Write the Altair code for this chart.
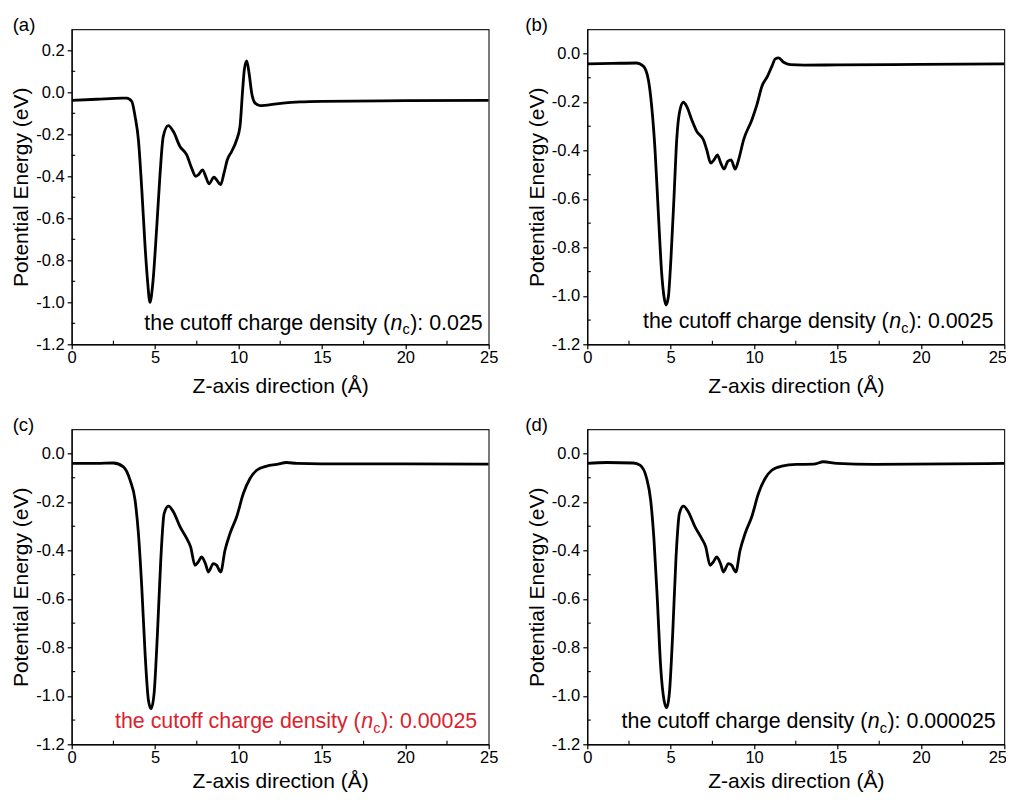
import altair as alt
import pandas as pd

FONT = "Liberation Sans"
W, H = 417, 315

# ---------------- data ----------------
z_a = [0, 1.5, 3.0, 3.3, 3.6, 3.8, 4.0, 4.2, 4.4, 4.55, 4.69, 4.85, 5.1, 5.3, 5.49, 5.79, 6.09, 6.49,
       6.89, 7.19, 7.43, 7.59, 7.85, 8.03, 8.23, 8.53, 8.69, 8.93, 9.13, 9.33, 9.59, 9.89, 10.09, 10.25,
       10.35, 10.49, 10.63, 10.79, 10.99, 11.29, 12.29, 13.69, 15, 20, 25]
e_a = [-0.038, -0.033, -0.028, -0.028, -0.043, -0.115, -0.226, -0.46, -0.735, -0.9, -1.0, -0.92, -0.64,
       -0.385, -0.21, -0.159, -0.186, -0.258, -0.297, -0.361, -0.40, -0.393, -0.369, -0.40, -0.436, -0.404,
       -0.417, -0.44, -0.385, -0.321, -0.282, -0.226, -0.162, 0.013, 0.108, 0.15, 0.093, -0.003, -0.051,
       -0.063, -0.055, -0.046, -0.043, -0.040, -0.038]

z_b = [0, 1.5, 2.96, 3.36, 3.66, 3.86, 4.06, 4.26, 4.46, 4.6, 4.72, 4.86, 5.02, 5.2, 5.36, 5.52, 5.76,
       5.96, 6.26, 6.56, 6.96, 7.16, 7.40, 7.6, 7.8, 8.0, 8.2, 8.42, 8.62, 8.87, 9.07, 9.37, 9.87, 10.17,
       10.47, 10.8, 11.07, 11.27, 11.47, 11.77, 12.17, 13, 15, 20, 25]
e_b = [-0.043, -0.041, -0.039, -0.052, -0.108, -0.218, -0.397, -0.659, -0.907, -1.004, -1.038, -1.004,
       -0.839, -0.59, -0.356, -0.245, -0.201, -0.218, -0.273, -0.321, -0.356, -0.397, -0.452, -0.439,
       -0.418, -0.452, -0.477, -0.445, -0.439, -0.477, -0.439, -0.356, -0.273, -0.211, -0.135, -0.094,
       -0.052, -0.022, -0.018, -0.036, -0.046, -0.048, -0.047, -0.045, -0.043]

z_c = [0, 1.5, 2.5, 3.1, 3.5, 3.8, 4.0, 4.2, 4.4, 4.6, 4.76, 4.94, 5.14, 5.34, 5.54, 5.8, 6.1, 6.5, 6.9,
       7.13, 7.39, 7.59, 7.79, 8.03, 8.19, 8.49, 8.69, 8.93, 9.19, 9.49, 9.89, 10.29, 10.69, 11.09, 11.69,
       12.29, 12.89, 13.49, 15, 20, 25]
e_c = [-0.041, -0.041, -0.039, -0.055, -0.11, -0.193, -0.33, -0.55, -0.826, -1.018, -1.053, -0.99,
       -0.743, -0.44, -0.248, -0.217, -0.241, -0.303, -0.351, -0.385, -0.461, -0.447, -0.427, -0.457,
       -0.489, -0.454, -0.461, -0.489, -0.399, -0.33, -0.261, -0.165, -0.103, -0.069, -0.052, -0.045,
       -0.037, -0.041, -0.043, -0.043, -0.044]

z_d = [0, 1.16, 2.76, 3.16, 3.56, 3.8, 4.0, 4.2, 4.4, 4.6, 4.76, 4.92, 5.12, 5.32, 5.52, 5.76, 6.06,
       6.46, 6.86, 7.1, 7.36, 7.56, 7.76, 8.0, 8.16, 8.46, 8.66, 8.9, 9.16, 9.46, 9.86, 10.26, 10.66,
       11.06, 11.66, 12.56, 13.56, 14.16, 14.96, 17.16, 25]
e_d = [-0.041, -0.037, -0.039, -0.048, -0.103, -0.193, -0.358, -0.605, -0.881, -1.018, -1.049, -0.99,
       -0.743, -0.427, -0.248, -0.217, -0.241, -0.303, -0.351, -0.385, -0.461, -0.447, -0.427, -0.457,
       -0.489, -0.454, -0.461, -0.489, -0.399, -0.33, -0.261, -0.165, -0.103, -0.069, -0.052, -0.045,
       -0.044, -0.034, -0.041, -0.045, -0.041]

panel_labels = ["(a)", "(b)", "(c)", "(d)"]
cutoff_values = ["0.025", "0.0025", "0.00025", "0.000025"]

x_major = [0, 5, 10, 15, 20, 25]
x_minor = [2.5, 7.5, 12.5, 17.5, 22.5]
y_major_a = [-1.2, -1.0, -0.8, -0.6, -0.4, -0.2, 0.0, 0.2]
y_minor_a = [-1.1, -0.9, -0.7, -0.5, -0.3, -0.1, 0.1]
y_major_b = [-1.2, -1.0, -0.8, -0.6, -0.4, -0.2, 0.0]
y_minor_b = [-1.1, -0.9, -0.7, -0.5, -0.3, -0.1]

x_title = "Z-axis direction (Å)"
y_title = "Potential Energy (eV)"

# ---------------- helpers ----------------
ARIAL_W = {'t': .278, 'h': .556, 'e': .556, ' ': .278, 'c': .5, 'u': .556, 'o': .556, 'f': .278,
           'a': .556, 'r': .333, 'g': .556, 'd': .556, 'n': .556, 's': .5, 'i': .222, 'y': .5,
           '(': .333, ')': .333, ':': .278, '0': .556, '.': .278, '2': .556, '5': .556}


def tw(s, size):
    return sum(ARIAL_W.get(ch, .556) for ch in s) * size


LABEL_EXPR = "replace(format(datum.value, '.1f'), '\u2212', '-')"


def text_layer(txt, x, y, size, style="normal", color="black"):
    return alt.Chart(pd.DataFrame({"t": [txt]})).mark_text(
        align="left", baseline="alphabetic", fontSize=size, fontStyle=style,
        font=FONT, color=color
    ).encode(text="t:N", x=alt.value(x), y=alt.value(y))


def panel(z, e, ydom, ymaj, ymin, label, lab_x, val, tx, ty, color, xtp, last_off):
    df = pd.DataFrame({"z": z, "e": e})
    xsc = alt.Scale(domain=[0, 25], nice=False, zero=False)
    ysc = alt.Scale(domain=ydom, nice=False, zero=False)
    xax = alt.Axis(values=x_major, title=x_title, labelPadding=1, titlePadding=xtp,
                   labelOffset={"condition": {"test": "datum.value == 25", "value": last_off}, "value": 0})
    yax = alt.Axis(values=ymaj, title=y_title, labelExpr=LABEL_EXPR, labelPadding=3, titlePadding=4)
    line = alt.Chart(df).mark_line(
        color="black", strokeWidth=2.8, interpolate="monotone", clip=True
    ).encode(
        x=alt.X("z:Q", scale=xsc, axis=xax),
        y=alt.Y("e:Q", scale=ysc, axis=yax),
    )
    xmin = alt.Chart(pd.DataFrame({"z": x_minor})).mark_rule(color="black", strokeWidth=1.1).encode(
        x=alt.X("z:Q", scale=xsc, axis=xax), y=alt.value(H), y2=alt.value(H - 3.5))
    ymn = alt.Chart(pd.DataFrame({"e": ymin})).mark_rule(color="black", strokeWidth=1.1).encode(
        y=alt.Y("e:Q", scale=ysc, axis=yax), x=alt.value(0), x2=alt.value(3.5))

    F = 21.4
    FS = 14.5
    p1 = "the cutoff charge density ("
    p4 = "): " + val
    x1 = tx
    x2 = x1 + tw(p1, F)
    x3 = x2 + tw("n", F)
    x4 = x3 + tw("c", FS) + 0.5
    layers = [
        line, xmin, ymn,
        text_layer(p1, x1, ty, F, color=color),
        text_layer("n", x2, ty, F, style="italic", color=color),
        text_layer("c", x3, ty + 4.5, FS, color=color),
        text_layer(p4, x4, ty, F, color=color),
        text_layer(label, lab_x, 1.5, 18.5),
    ]
    return alt.layer(*layers).properties(width=W, height=H)


RED = "#d9232d"
pa = panel(z_a, e_a, [-1.2, 0.3], y_major_a, y_minor_a, panel_labels[0], -59, cutoff_values[0], 72.6, 300.5, "black", 9, 0)
pb = panel(z_b, e_b, [-1.2, 0.1], y_major_b, y_minor_b, panel_labels[1], -62, cutoff_values[1], 55.7, 299, "black", 9, -7)
pc = panel(z_c, e_c, [-1.2, 0.1], y_major_b, y_minor_b, panel_labels[2], -59, cutoff_values[2], 43.3, 299, RED, 4.5, 0)
pd_ = panel(z_d, e_d, [-1.2, 0.1], y_major_b, y_minor_b, panel_labels[3], -62, cutoff_values[3], 34.3, 299, "black", 4.5, -7)

PAD_L, PAD_T = 63.7, 21.3
chart = alt.concat(
    pa, pb, pc, pd_, columns=2, spacing={"row": 85, "column": 98.6}, bounds="flush"
).properties(
    autosize=alt.AutoSizeParams(type="none"),
    padding={"left": PAD_L, "top": PAD_T, "right": 998 - PAD_L, "bottom": 784 - PAD_T},
    background="white"
).configure_view(
    stroke="#222", strokeWidth=1.2
).configure_axis(
    grid=False, domainColor="black", domainWidth=1.2, tickColor="black", tickWidth=1.2,
    tickSize=4.5, labelFont=FONT, labelFontSize=16.5, labelColor="black",
    titleFont=FONT, titleFontSize=21, titleFontWeight="normal", titleColor="black",
    labelFlush=False, labelOverlap=False
)

chart.save("out.html", embed_options={"renderer": "svg", "actions": False})
